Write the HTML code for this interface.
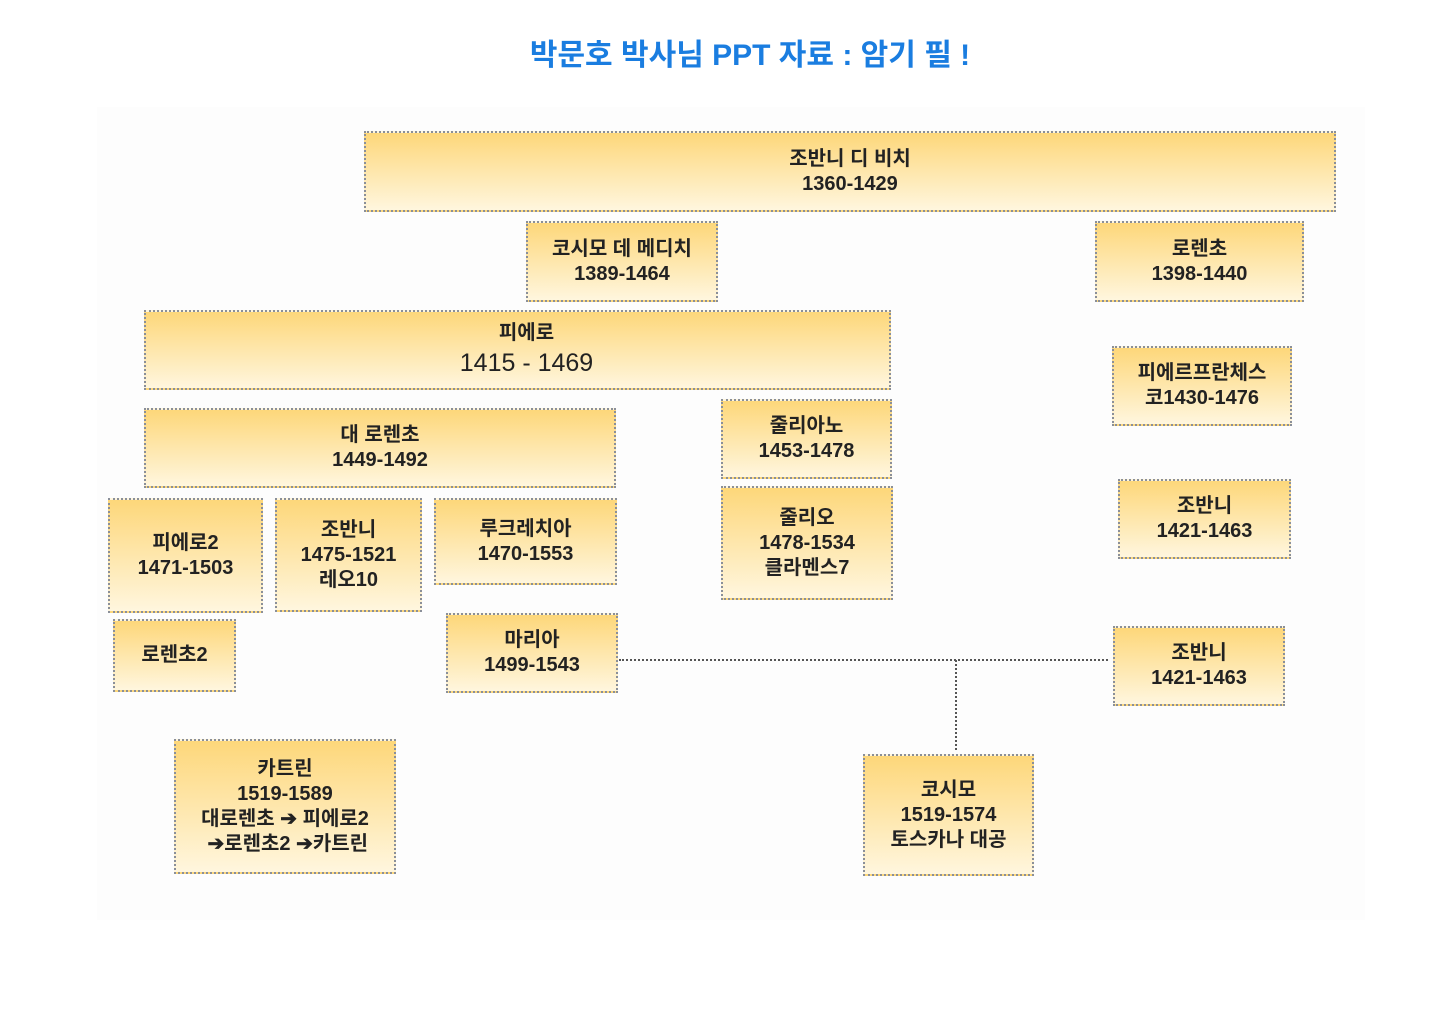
<!DOCTYPE html>
<html><head><meta charset="utf-8"><style>
html,body{margin:0;padding:0;background:#fff;}
body{width:1440px;height:1018px;position:relative;overflow:hidden;font-family:"Liberation Sans","Noto Sans CJK KR","NanumGothic",sans-serif;}
.bg{position:absolute;left:97px;top:107px;width:1268px;height:813px;background:#fdfdfd;}
.t{position:absolute;left:0;width:1500px;top:30px;text-align:center;color:#1a7de0;font-size:30px;font-weight:bold;}
.b{position:absolute;box-sizing:border-box;border:2px dotted #8a8f99;background:linear-gradient(#fdd77a,#fff6de);display:flex;align-items:center;justify-content:center;text-align:center;font-weight:bold;font-size:20px;line-height:25px;color:#222;}
.h{position:absolute;border-top:2px dotted #555;height:0;}
.v{position:absolute;border-left:2px dotted #555;width:0;}
.a{font-size:20px;font-weight:900;}
</style></head><body>
<div class="bg"></div>
<div class="t">박문호 박사님 PPT 자료 : 암기 필 !</div>
<div class="b" style="left:364px;top:131px;width:972px;height:81px"><div>조반니 디 비치<br>1360-1429</div></div>
<div class="b" style="left:526px;top:221px;width:192px;height:81px"><div>코시모 데 메디치<br>1389-1464</div></div>
<div class="b" style="left:1095px;top:221px;width:209px;height:81px"><div>로렌초<br>1398-1440</div></div>
<div class="b" style="left:144px;top:310px;width:747px;height:80px;padding-left:18px"><div>피에로<br><span style="font-size:25px;font-weight:normal;line-height:34px">1415 - 1469</span></div></div>
<div class="b" style="left:1112px;top:346px;width:180px;height:80px"><div>피에르프란체스<br>코1430-1476</div></div>
<div class="b" style="left:144px;top:408px;width:472px;height:80px"><div>대 로렌초<br>1449-1492</div></div>
<div class="b" style="left:721px;top:399px;width:171px;height:80px"><div>줄리아노<br>1453-1478</div></div>
<div class="b" style="left:721px;top:486px;width:172px;height:114px"><div>줄리오<br>1478-1534<br>클라멘스7</div></div>
<div class="b" style="left:1118px;top:479px;width:173px;height:80px"><div>조반니<br>1421-1463</div></div>
<div class="b" style="left:108px;top:498px;width:155px;height:115px"><div>피에로2<br>1471-1503</div></div>
<div class="b" style="left:275px;top:498px;width:147px;height:114px"><div>조반니<br>1475-1521<br>레오10</div></div>
<div class="b" style="left:434px;top:498px;width:183px;height:87px"><div>루크레치아<br>1470-1553</div></div>
<div class="b" style="left:113px;top:619px;width:123px;height:73px"><div>로렌초2</div></div>
<div class="b" style="left:446px;top:613px;width:172px;height:80px"><div>마리아<br>1499-1543</div></div>
<div class="b" style="left:1113px;top:626px;width:172px;height:80px"><div>조반니<br>1421-1463</div></div>
<div class="b" style="left:174px;top:739px;width:222px;height:135px"><div>카트린<br>1519-1589<br>대로렌초 <span class="a">➔</span> 피에로2<br>&nbsp;<span class="a">➔</span>로렌초2 <span class="a">➔</span>카트린</div></div>
<div class="b" style="left:863px;top:754px;width:171px;height:122px"><div>코시모<br>1519-1574<br>토스카나 대공</div></div>
<div class="h" style="left:619px;top:659px;width:489px"></div>
<div class="v" style="left:955px;top:660px;height:90px"></div>
</body></html>
